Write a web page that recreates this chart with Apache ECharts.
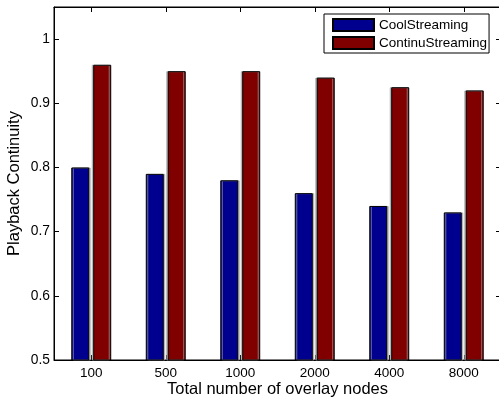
<!DOCTYPE html>
<html>
<head>
<meta charset="utf-8">
<script src="https://cdn.jsdelivr.net/npm/echarts@6/dist/echarts.min.js"></script>
<style>html,body{margin:0;padding:0;background:#fff}#c{width:499px;height:399px}</style>
</head>
<body>
<div id="c"></div>
<script>
var categories = ['100', '500', '1000', '2000', '4000', '8000'];
var coolStreaming = [0.80, 0.79, 0.78, 0.76, 0.74, 0.73];
var continuStreaming = [0.96, 0.95, 0.95, 0.94, 0.925, 0.92];
var yTicks = [0.5, 0.6, 0.7, 0.8, 0.9, 1];

var font = 'Liberation Sans, Arial, Helvetica, sans-serif';
var chart = echarts.init(document.getElementById('c'), null, {renderer: 'canvas'});
function yFmt(v) {
  for (var i = 0; i < yTicks.length; i++) if (Math.abs(yTicks[i] - v) < 1e-6) return String(yTicks[i]);
  return '';
}
var tickStyle = {show: true, inside: true, length: 5, alignWithLabel: true, lineStyle: {color: '#000', width: 1}};
chart.setOption({
  animation: false,
  backgroundColor: '#fff',
  textStyle: {fontFamily: font},
  grid: {left: 54, top: 7, width: 447, bottom: 39, show: true, borderColor: '#000', borderWidth: 1, backgroundColor: 'transparent', containLabel: false, outerBoundsMode: 'none'},
  legend: {
    orient: 'vertical', left: 324, top: 14,
    data: ['CoolStreaming', 'ContinuStreaming'],
    itemWidth: 41, itemHeight: 12, itemGap: 4,
    padding: [4, 2, 3, 8],
    backgroundColor: '#fff', borderColor: '#000', borderWidth: 1, borderRadius: 0,
    icon: 'rect',
    textStyle: {fontSize: 13.5, color: '#000', fontFamily: font}
  },
  xAxis: [{
    type: 'category', data: categories, position: 'bottom',
    axisLine: {show: true, lineStyle: {color: '#000', width: 1}},
    axisTick: tickStyle,
    axisLabel: {fontSize: 13.5, color: '#000', margin: 6, fontFamily: font},
    name: 'Total number of overlay nodes', nameLocation: 'middle', nameGap: 21, nameMoveOverlap: false,
    nameTextStyle: {fontSize: 16.5, color: '#000', fontFamily: font}
  }, {
    type: 'category', data: categories, position: 'top',
    axisLine: {show: true, lineStyle: {color: '#000', width: 1}},
    axisTick: tickStyle, axisLabel: {show: false}
  }],
  yAxis: [{
    type: 'value', min: 0.5, max: 1.05, interval: 0.1, position: 'left',
    axisLine: {show: true, lineStyle: {color: '#000', width: 1}},
    axisTick: {show: true, inside: true, length: 5, lineStyle: {color: '#000'}},
    splitLine: {show: false},
    axisLabel: {fontSize: 13.8, color: '#000', margin: 4, formatter: yFmt, fontFamily: font, showMaxLabel: false},
    name: 'Playback Continuity', nameLocation: 'middle', nameGap: 31, nameRotate: 90, nameMoveOverlap: false,
    nameTextStyle: {fontSize: 16.5, color: '#000', fontFamily: font}
  }, {
    type: 'value', min: 0.5, max: 1.05, interval: 0.1, position: 'right',
    axisLine: {show: true, lineStyle: {color: '#000', width: 1}},
    axisTick: {show: true, inside: true, length: 5, lineStyle: {color: '#000'}},
    splitLine: {show: false},
    axisLabel: {show: false}
  }],
  series: [{
    name: 'CoolStreaming', type: 'bar', data: coolStreaming,
    barWidth: 18, barGap: '22%',
    itemStyle: {color: '#00008f', borderColor: '#000', borderWidth: 1, shadowColor: 'rgba(160,160,160,0.7)', shadowOffsetX: 1.5, shadowOffsetY: 0, shadowBlur: 0}
  }, {
    name: 'ContinuStreaming', type: 'bar', data: continuStreaming,
    barWidth: 18,
    itemStyle: {color: '#800000', borderColor: '#000', borderWidth: 1, shadowColor: 'rgba(160,160,160,0.7)', shadowOffsetX: -1.5, shadowOffsetY: 0, shadowBlur: 0}
  }]
});
</script>
</body>
</html>
